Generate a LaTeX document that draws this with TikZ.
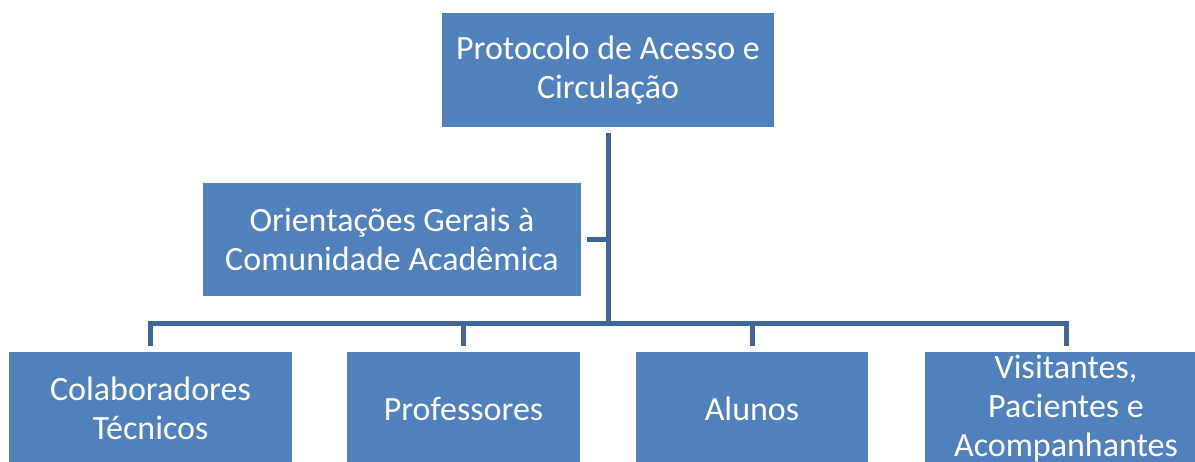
\documentclass[tikz,border=0pt]{standalone}
\usepackage{fontspec}
\setmainfont{Carlito}
\definecolor{boxblue}{HTML}{4F81BD}
\definecolor{lineblue}{HTML}{3F6698}
\begin{document}
\begin{tikzpicture}[x=1pt,y=-1pt,
  orgbox/.style={fill=boxblue, text=white, align=center, inner sep=0pt, outer sep=6pt,
    font=\fontsize{34}{39}\selectfont},
  link/.style={draw=lineblue, line width=5pt}]
\useasboundingbox (0,0) rectangle (1195,462);
\node[orgbox, minimum width=332pt, minimum height=114pt] (top) at (608,70) {Protocolo de Acesso e\\Circulação};
\node[orgbox, minimum width=378pt, minimum height=113pt] (left) at (392,239.5) {Orientações Gerais à\\Comunidade Acadêmica};
\node[orgbox, minimum width=283pt, minimum height=113pt] (b1) at (150.5,408.5) {Colaboradores\\Técnicos};
\node[orgbox, minimum width=233pt, minimum height=113pt] (b2) at (463.5,408.5) {Professores};
\node[orgbox, minimum width=232pt, minimum height=113pt] (b3) at (752,408.5) {Alunos};
\node[orgbox, minimum width=282pt, minimum height=113pt] (b4) at (1066,408.5) {Visitantes,\\Pacientes e\\Acompanhantes};
\coordinate (hub) at (608,324);
\draw[link] (top.south) -- (hub);
\draw[link] (left.east) -- (left.east -| hub);
\draw[link] (b1.north) |- (hub);
\draw[link] (b2.north) |- (hub);
\draw[link] (b3.north) |- (hub);
\draw[link] (b4.north) |- (hub);
\end{tikzpicture}
\end{document}
